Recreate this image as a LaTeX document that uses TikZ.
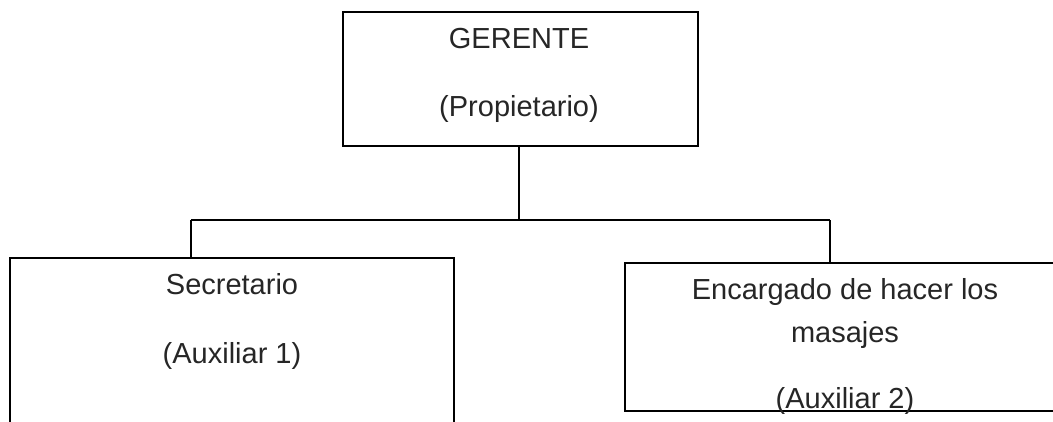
\documentclass[tikz,border=0pt]{standalone}
\usepackage{fontspec}
\setmainfont{Liberation Sans}
\usetikzlibrary{calc}
\begin{document}
\begin{tikzpicture}[x=1pt,y=-1pt,
  box/.style={draw=black,line width=2pt,rectangle,inner sep=0pt},
  txt/.style={anchor=base,inner sep=0pt,font=\fontsize{29}{34}\selectfont,text=black!85},
  link/.style={draw=black,line width=2pt}]
\useasboundingbox[fill=white] (0,0) rectangle (1053,421);
\clip (0,0) rectangle (1053,421);
% boxes
\node[box,minimum width=355pt,minimum height=134pt] (top) at (520.5,79) {};
\node[box,minimum width=444pt,minimum height=200pt] (sec) at (232,358) {};
\node[box,minimum width=441pt,minimum height=148pt] (enc) at (845.5,337) {};
% texts
\node[txt] (t1) at (519,48) {GERENTE};
\node[txt] (t2) at (519,116) {(Propietario)};
\node[txt] (s1) at (232,294) {Secretario};
\node[txt] (s2) at (232,363) {(Auxiliar 1)};
\node[txt] (e1) at (845,299) {Encargado de hacer los};
\node[txt] (e2) at (845,342) {masajes};
\node[txt] (e3) at (845,408) {(Auxiliar 2)};
% connectors
\coordinate (j) at (519,220);
\coordinate (jl) at (191,220);
\coordinate (jr) at (830,220);
\draw[link] ($(top.south)+(-1.5,0)$) -- (j);
\draw[link] (jl) -- (jr);
\draw[link] (jl) -- (jl |- sec.north);
\draw[link] (jr) -- (jr |- enc.north);
\end{tikzpicture}
\end{document}
